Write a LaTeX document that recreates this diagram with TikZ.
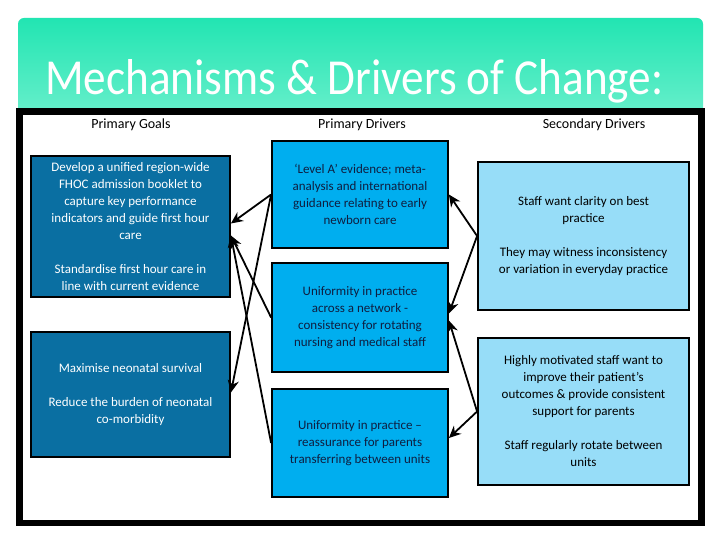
\documentclass[tikz,border=0pt]{standalone}
\usepackage{fontspec}
\setmainfont{Carlito}
\usetikzlibrary{arrows.meta}
\definecolor{gtop}{HTML}{22E5B2}
\definecolor{gbot}{HTML}{62EEC9}
\definecolor{darkbox}{HTML}{0A6FA2}
\definecolor{midbox}{HTML}{00AEEF}
\definecolor{lightbox}{HTML}{97DDF8}
\definecolor{navytext}{HTML}{0F1E40}
\begin{document}
\begin{tikzpicture}[x=1pt,y=-1pt,
  box/.style={draw=black, line width=1.8pt, align=center, inner sep=0pt,
    font=\fontsize{13}{17}\selectfont},
  goalbox/.style={box, fill=darkbox, text=white, minimum width=199pt},
  drvbox/.style={box, fill=midbox, text=navytext, minimum width=176pt},
  secbox/.style={box, fill=lightbox, text=black, minimum width=211pt},
  hdr/.style={font=\fontsize{14}{17}\selectfont, inner sep=0pt},
  conn/.style={line width=1.8pt, -{Stealth[length=12pt,width=11pt]}}]
\useasboundingbox (0,0) rectangle (720,540);
\fill[white] (0,0) rectangle (720,540);
% title band
\begin{scope}
  \clip[rounded corners=6pt] (18,18) rectangle (703,140);
  \shade[top color=gtop, bottom color=gbot] (18,18) rectangle (703,108);
\end{scope}
\node[anchor=base west, inner sep=0pt, text=white] (title) at (45,95)
  {\resizebox{618pt}{35pt}{Mechanisms \& Drivers of Change:}};
% frame
\draw[line width=6.5pt] (19.5,111.5) rectangle (701.5,523);
% headers
\node[hdr] (h1) at (131,125) {Primary Goals};
\node[hdr] (h2) at (362,125) {Primary Drivers};
\node[hdr] (h3) at (594,125) {Secondary Drivers};
% primary goals
\node[goalbox, minimum height=141pt] (lb1) at (130.5,226.5)
  {Develop a unified region-wide\\ FHOC admission booklet to\\ capture key performance\\
   indicators and guide first hour\\ care\\[17pt] Standardise first hour care in\\ line with current evidence};
\node[goalbox, minimum height=125pt] (lb2) at (130.5,394.5)
  {Maximise neonatal survival\\[17pt] Reduce the burden of neonatal\\ co-morbidity};
% primary drivers
\node[drvbox, minimum height=107pt] (mb1) at (360,194.5)
  {‘Level A’ evidence; meta-\\ analysis and international\\ guidance relating to early\\ newborn care};
\node[drvbox, minimum height=109pt] (mb2) at (360,317.5)
  {Uniformity in practice\\ across a network -\\ consistency for rotating\\ nursing and medical staff};
\node[drvbox, minimum height=108pt] (mb3) at (360,443)
  {Uniformity in practice –\\ reassurance for parents\\ transferring between units};
% secondary drivers
\node[secbox, minimum height=148pt] (rb1) at (583.5,236)
  {Staff want clarity on best\\ practice\\[17pt] They may witness inconsistency\\ or variation in everyday practice};
\node[secbox, minimum height=147pt] (rb2) at (583.5,411.5)
  {Highly motivated staff want to\\ improve their patient’s\\ outcomes \& provide consistent\\ support for parents\\[17pt] Staff regularly rotate between\\ units};
% connectors left
\draw[conn] (mb1.west) -- ([yshift=3pt]lb1.east);
\draw[conn] (mb1.west) -- ([yshift=2pt]lb2.east);
\draw[conn] (mb2.west) -- ([yshift=-9pt]lb1.east);
\draw[conn] (mb3.west) -- ([yshift=-9pt]lb1.east);
% connectors right
\draw[conn] (rb1.west) -- (mb1.east);
\draw[conn] (rb1.west) -- ([yshift=4pt]mb2.east);
\draw[conn] (rb2.west) -- ([yshift=-3pt]mb2.east);
\draw[conn] (rb2.west) -- ([yshift=5pt]mb3.east);
\end{tikzpicture}
\end{document}
